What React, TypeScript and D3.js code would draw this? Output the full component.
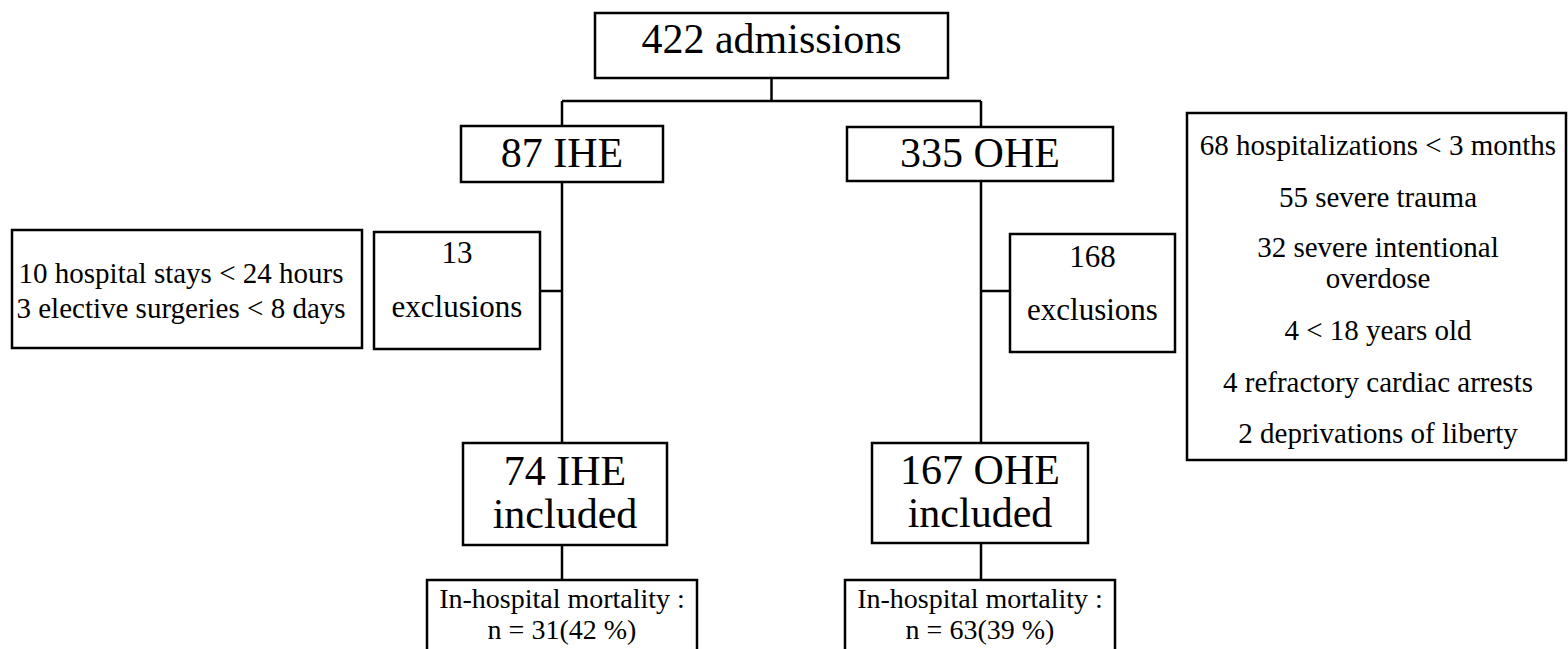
import React from 'react';
import * as d3 from 'd3';

// flowchart values
const totalAdmissions = 422;
const groups = ['IHE', 'OHE'];
const groupCounts = [87, 335];
const exclusionCounts = [13, 168];
const includedCounts = [74, 167];
const deathCounts = [31, 63];
const deathPercents = [42, 39];
const iheReasons = [['10 hospital stays < 24 hours'], ['3 elective surgeries < 8 days']];
const oheReasons = [
  ['68 hospitalizations < 3 months'],
  ['55 severe trauma'],
  ['32 severe intentional', 'overdose'],
  ['4 < 18 years old'],
  ['4 refractory cardiac arrests'],
  ['2 deprivations of liberty'],
];

const W = 1568;
const H = 649;
const FONT = 'Liberation Serif';
const SW = 2.5;

// column centres for the two branches
const colX = d3.scaleOrdinal<string, number>().domain(groups).range([562, 981]);

// layout (x0, y0, x1, y1)
const topBox = [595, 13, 948, 78];
const groupBoxes = [[461, 126, 663, 182], [847, 127, 1113, 181]];
const exclBoxes = [[374, 232, 540, 349], [1010, 234, 1175, 352]];
const exclBase = [[263, 317], [267, 320]];
const leftReasonBox = [12, 230, 362, 348];
const leftBase = [283, 318];
const rightReasonBox = [1187, 113, 1566, 460];
const rightBase = [[155], [207], [257, 288], [340], [392], [443]];
const inclBoxes = [[463, 443, 667, 545], [872, 443, 1088, 543]];
const inclBase = [[485, 528], [484, 527]];
const mortBoxes = [[427, 580, 697, 670], [845, 580, 1115, 670]];
const mortBase = [608, 639];

const Box = ({ b }) => (
  <rect x={b[0]} y={b[1]} width={b[2] - b[0]} height={b[3] - b[1]}
    fill="#fff" stroke="#000" strokeWidth={SW} />
);

const Label = ({ lines, cx, base, size }) => (
  <text textAnchor="middle" fill="#000" style={{ fontFamily: FONT, fontSize: `${size}px` }}>
    {lines.map((s, i) => (
      <tspan key={i} x={cx} y={base[i]}>{s}</tspan>
    ))}
  </text>
);

const Line = ({ x1, y1, x2, y2 }) => (
  <line x1={x1} y1={y1} x2={x2} y2={y2} stroke="#000" strokeWidth={SW} />
);

const mid = (b) => (b[0] + b[2]) / 2;

const App = () => {
  const topX = mid(topBox);
  const busY = 101;
  return (
    <svg width={W} height={H} style={{ position: 'absolute', left: 0, top: 0, background: '#fff' }}>
      {/* connectors */}
      <Line x1={topX} y1={topBox[3]} x2={topX} y2={busY} />
      <Line x1={colX('IHE')} y1={busY} x2={colX('OHE')} y2={busY} />
      {groups.map((grp, i) => (
        <g key={`c-${grp}`}>
          <Line x1={colX(grp)} y1={busY} x2={colX(grp)} y2={groupBoxes[i][1]} />
          <Line x1={colX(grp)} y1={groupBoxes[i][3]} x2={colX(grp)} y2={inclBoxes[i][1]} />
          <Line x1={colX(grp)} y1={inclBoxes[i][3]} x2={colX(grp)} y2={mortBoxes[i][1]} />
        </g>
      ))}
      <Line x1={exclBoxes[0][2]} y1={291} x2={colX('IHE')} y2={291} />
      <Line x1={colX('OHE')} y1={291} x2={exclBoxes[1][0]} y2={291} />

      {/* top */}
      <Box b={topBox} />
      <Label lines={[`${totalAdmissions} admissions`]} cx={topX} base={[53]} size={42} />

      {groups.map((grp, i) => (
        <g key={grp}>
          <Box b={groupBoxes[i]} />
          <Label lines={[`${groupCounts[i]} ${grp}`]} cx={mid(groupBoxes[i])} base={[167]} size={42} />

          <Box b={exclBoxes[i]} />
          <Label lines={[`${exclusionCounts[i]}`, 'exclusions']} cx={mid(exclBoxes[i])} base={exclBase[i]} size={31} />

          <Box b={inclBoxes[i]} />
          <Label lines={[`${includedCounts[i]} ${grp}`, 'included']} cx={mid(inclBoxes[i])} base={inclBase[i]} size={42} />

          <Box b={mortBoxes[i]} />
          <Label
            lines={['In-hospital mortality :', `n = ${deathCounts[i]}(${deathPercents[i]} %)`]}
            cx={mid(mortBoxes[i])} base={mortBase} size={28} />
        </g>
      ))}

      {/* exclusion reasons */}
      <Box b={leftReasonBox} />
      {iheReasons.map((r, i) => (
        <Label key={i} lines={r} cx={181} base={[leftBase[i]]} size={29} />
      ))}
      <Box b={rightReasonBox} />
      {oheReasons.map((r, i) => (
        <Label key={i} lines={r} cx={1378} base={rightBase[i]} size={29} />
      ))}
    </svg>
  );
};

export default App;
